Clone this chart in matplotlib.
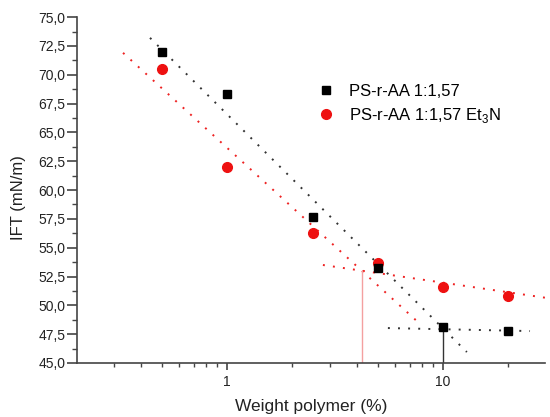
import matplotlib
matplotlib.use("Agg")
from matplotlib import pyplot as plt
from matplotlib import ticker

plt.rcParams['font.family'] = ['Liberation Sans', 'DejaVu Sans']
plt.rcParams['mathtext.fontset'] = 'custom'
plt.rcParams['mathtext.rm'] = 'Liberation Sans'

# data
conc = [0.5, 1, 2.5, 5, 10, 20]
ift_plain = [72.0, 68.3, 57.7, 53.2, 48.1, 47.8]
ift_et3n = [70.5, 62.0, 56.3, 53.7, 51.6, 50.8]

# linear fits (endpoints)
fit_plain_steep_x = [0.44, 12.9]
fit_plain_steep_y = [73.2, 45.95]
fit_plain_flat_x = [5.56, 25.3]
fit_plain_flat_y = [48.03, 47.77]
fit_et3n_steep_x = [0.33, 7.66]
fit_et3n_steep_y = [71.9, 48.55]
fit_et3n_flat_x = [2.78, 30.3]
fit_et3n_flat_y = [53.5, 50.64]

# CMC drop lines
cmc_plain = (10, 48.1)
cmc_et3n = (4.2, 53.0)

labels = ['PS-r-AA 1:1,57', r'PS-r-AA 1:1,57 Et$_\mathregular{3}$N']

fig = plt.figure(figsize=(5.5, 4.17), dpi=100)
ax = fig.add_axes([0.14, 0.1295, 0.851, 0.8295])

dots = (0, (1, 4.2))
ax.plot(fit_plain_steep_x, fit_plain_steep_y, color='#333333', lw=1.4, linestyle=dots)
ax.plot(fit_plain_flat_x, fit_plain_flat_y, color='#333333', lw=1.4, linestyle=dots)
ax.plot(fit_et3n_steep_x, fit_et3n_steep_y, color='#ee2222', lw=1.4, linestyle=dots)
ax.plot(fit_et3n_flat_x, fit_et3n_flat_y, color='#ee2222', lw=1.4, linestyle=dots)

ax.plot([cmc_plain[0]] * 2, [45, cmc_plain[1]], color='#333333', lw=1)
ax.plot([cmc_et3n[0]] * 2, [45, cmc_et3n[1]], color='#f4a0a0', lw=1)

ax.plot(conc, ift_plain, 's', color='black', ms=6, label=labels[0], zorder=5)
ax.plot(conc, ift_et3n, 'o', color='#ee1111', ms=7, label=labels[1], zorder=4)

ax.set_xscale('log')
ax.set_xlim(0.202, 29.7)
ax.set_ylim(45, 75)

ax.xaxis.set_major_locator(ticker.FixedLocator([1, 10]))
ax.xaxis.set_major_formatter(ticker.FixedFormatter(['1', '10']))
ax.xaxis.set_minor_locator(ticker.LogLocator(base=10, subs=range(2, 10)))
ax.xaxis.set_minor_formatter(ticker.NullFormatter())

yt = [45 + 2.5 * i for i in range(13)]
ax.yaxis.set_major_locator(ticker.FixedLocator(yt))
ax.yaxis.set_major_formatter(ticker.FixedFormatter([('%.1f' % v).replace('.', ',') for v in yt]))
ax.yaxis.set_minor_locator(ticker.MultipleLocator(1.25))

for s in ['top', 'right']:
    ax.spines[s].set_visible(False)
for s in ['left', 'bottom']:
    ax.spines[s].set_color('#444444')
    ax.spines[s].set_linewidth(1.2)

ax.tick_params(axis='y', which='major', direction='out', length=7, width=1.2, pad=1.5,
               colors='#444444', labelsize=10, labelcolor='#222222')
ax.tick_params(axis='y', which='minor', direction='out', length=3.5, width=1, colors='#444444')
ax.tick_params(axis='x', which='major', direction='out', length=5, width=1.2, pad=4,
               colors='#444444', labelsize=10, labelcolor='#222222')
ax.tick_params(axis='x', which='minor', direction='out', length=3, width=1, colors='#444444')

ax.set_xlabel('Weight polymer (%)', fontsize=12.5, color='#222222', labelpad=7)
ax.set_ylabel('IFT (mN/m)', fontsize=12, color='#222222')
ax.yaxis.set_label_coords(-0.109, 0.477)

ax.legend(loc='upper left', bbox_to_anchor=(0.514, 0.808), frameon=False, fontsize=12,
          borderaxespad=0, borderpad=0, handletextpad=0.9, labelspacing=0.45, handlelength=1.0)

fig.savefig('out.png', dpi=100)
